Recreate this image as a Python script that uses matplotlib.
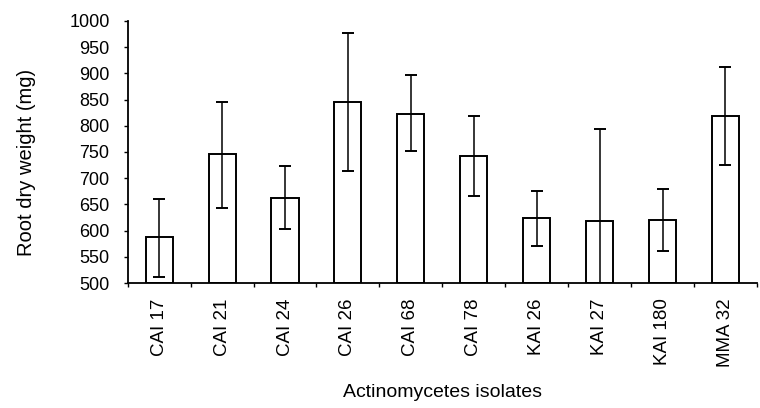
import numpy as np
import matplotlib
matplotlib.use("Agg")
import matplotlib.pyplot as plt

plt.rcParams['font.family'] = ['Liberation Sans', 'DejaVu Sans']

isolates = ['CAI 17', 'CAI 21', 'CAI 24', 'CAI 26', 'CAI 68',
            'CAI 78', 'KAI 26', 'KAI 27', 'KAI 180', 'MMA 32']
root_weight = [588, 746, 663, 845, 822, 742, 625, 618, 621, 818]
err_top = [660, 846, 723, 976, 896, 819, 675, 794, 680, 912]
err_bottom = [512, 643, 604, 714, 752, 667, 571, 442, 562, 725]

mean = np.array(root_weight)
yerr = [mean - np.array(err_bottom), np.array(err_top) - mean]

fig = plt.figure(figsize=(7.6, 4.08), dpi=100)
ax = fig.add_axes([0.168, 0.306, 0.828, 0.643])

x = np.arange(len(isolates))
ax.bar(x, mean - 500, bottom=500, width=0.43, color='white',
       edgecolor='black', linewidth=1.4, zorder=2)
ax.errorbar(x, mean, yerr=yerr, fmt='none', ecolor='black',
            elinewidth=1.1, capsize=4.5, capthick=1.4, zorder=3)

ax.set_xlim(-0.5, len(isolates) - 0.5)
ax.set_ylim(500, 1000)
ax.set_yticks(np.arange(500, 1001, 50))

ax.set_xticks(x)
ax.set_xticklabels(isolates, rotation=90, fontsize=13.5)
ax.tick_params(axis='x', length=0, pad=11)
ax.set_xticks(np.arange(-0.5, len(isolates), 1), minor=True)
ax.tick_params(axis='x', which='minor', length=3, width=1, direction='out')
ax.tick_params(axis='y', labelsize=13, length=3, width=1, direction='out', pad=10)

for s in ['top', 'right']:
    ax.spines[s].set_visible(False)
for s in ['left', 'bottom']:
    ax.spines[s].set_linewidth(1.3)

ax.set_xlabel('Actinomycetes isolates', fontsize=14, labelpad=12)
ax.set_ylabel('Root dry weight (mg)', fontsize=14.5)
ax.yaxis.set_label_coords(-0.145, 0.46)

fig.savefig('out.png', dpi=100)
